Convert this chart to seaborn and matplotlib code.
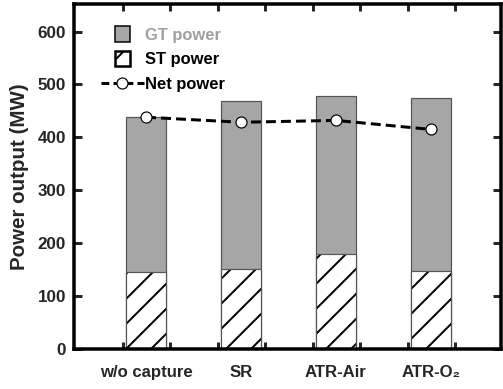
import numpy as np
import pandas as pd
import matplotlib
matplotlib.use("Agg")
import matplotlib.pyplot as plt
import seaborn as sns
from matplotlib.patches import Patch, Rectangle
from matplotlib.lines import Line2D
from matplotlib.legend_handler import HandlerPatch
from matplotlib.ticker import FixedLocator

# ---- data ----
categories = ["w/o capture", "SR", "ATR-Air", "ATR-O\u2082"]
st_power = [145, 152, 180, 147]
gt_power = [293, 317, 299, 327]
net_power = [438, 428.5, 432, 415]
y_ticks = [0, 100, 200, 300, 400, 500, 600]

DPI = 150
def px(v):
    return v * 72.0 / DPI

sns.set_theme(style="white")
plt.rcParams["font.family"] = ["Liberation Sans", "DejaVu Sans"]
plt.rcParams["font.weight"] = "bold"
plt.rcParams["hatch.linewidth"] = px(2.0)

total = [s + g for s, g in zip(st_power, gt_power)]
df = pd.DataFrame({"cat": categories, "total": total, "st": st_power, "net": net_power})

fig = plt.figure(figsize=(503 / DPI, 389 / DPI), dpi=DPI)
ax = fig.add_axes([74 / 503, 40 / 389, (501 - 74) / 503, (349 - 4) / 389])

bw = 0.42
sns.barplot(data=df, x="cat", y="total", color="#a6a6a6", saturation=1,
            width=bw, edgecolor="#555555", linewidth=px(1.2), ax=ax)
sns.barplot(data=df, x="cat", y="st", color="white", saturation=1,
            width=bw, edgecolor="black", linewidth=0, hatch="//", ax=ax)
sns.barplot(data=df, x="cat", y="st", fill=False, color="#555555",
            width=bw, edgecolor="#555555", linewidth=px(1.2), ax=ax)

sns.lineplot(x=np.arange(len(categories)), y=net_power, color="black",
             linewidth=px(3), linestyle=(0, (3.3, 1.7)), marker="o",
             markersize=px(11), markerfacecolor="white", markeredgecolor="black",
             markeredgewidth=px(1.2), ax=ax, zorder=5)

ax.set_xlim(-0.76, 3.74)
ax.set_ylim(0, 652)
ax.set_yticks(y_ticks)
ax.set_xticks(range(len(categories)))
ax.set_xticklabels(categories)
ax.xaxis.set_minor_locator(FixedLocator([i + d for i in range(len(categories)) for d in (-0.24, 0.25)]))
ax.tick_params(axis="x", which="major", length=0, pad=px(16), labelsize=px(16.8))
ax.tick_params(axis="x", which="minor", direction="in", length=px(7), width=px(3), top=True, bottom=True)
ax.tick_params(axis="y", which="major", direction="in", length=px(8), width=px(3),
               left=True, right=True, labelsize=px(17), pad=px(8))
for lab in ax.get_xticklabels() + ax.get_yticklabels():
    lab.set_fontweight("bold")
for s in ax.spines.values():
    s.set_linewidth(px(3.5))
    s.set_color("black")
ax.set_xlabel("")
ax.set_ylabel("Power output (MW)", fontsize=px(20.5), fontweight="bold", labelpad=px(8))


def square_patch(legend, orig_handle, xdescent, ydescent, width, height, fontsize):
    s = height * 1.35
    return Rectangle((xdescent + width * 0.5 - s / 2, ydescent + height / 2 - s / 2), s, s)


handles = [
    Patch(facecolor="#a6a6a6", edgecolor="black", linewidth=px(1.5)),
    Patch(facecolor="white", edgecolor="black", linewidth=px(2.5), hatch="//"),
    Line2D([], [], color="black", linewidth=px(3), linestyle=(0, (2.6, 1.4)), marker="o",
           markersize=px(11), markerfacecolor="white", markeredgecolor="black",
           markeredgewidth=px(1.2)),
]
labels = ["GT power", "ST power", "Net power"]
leg = ax.legend(handles, labels, loc="upper left", bbox_to_anchor=(0.04, 0.96),
                frameon=False, fontsize=px(16.5), handlelength=2.6, handletextpad=0.08,
                labelspacing=0.58, borderaxespad=0.2,
                handler_map={Patch: HandlerPatch(patch_func=square_patch)})
for t, c in zip(leg.get_texts(), ["#a0a0a0", "black", "black"]):
    t.set_color(c)
    t.set_fontweight("bold")

fig.savefig("out.png", dpi=DPI)
